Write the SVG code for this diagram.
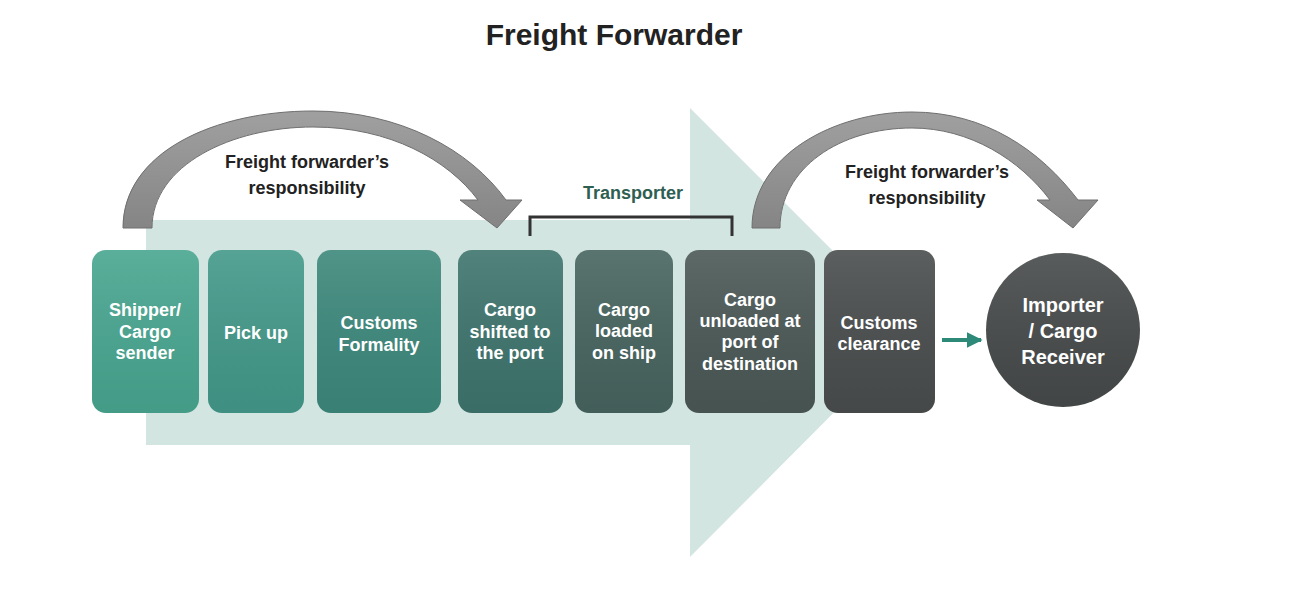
<svg xmlns="http://www.w3.org/2000/svg" width="1300" height="600" viewBox="0 0 1300 600">
<defs>
<linearGradient id="shade" x1="0" y1="0" x2="0" y2="1">
<stop offset="0" stop-color="#ffffff" stop-opacity="0.10"/>
<stop offset="1" stop-color="#000000" stop-opacity="0.06"/>
</linearGradient>
<linearGradient id="grayArc" x1="0" y1="0" x2="0" y2="1">
<stop offset="0" stop-color="#a0a0a0"/>
<stop offset="1" stop-color="#858585"/>
</linearGradient>
<marker id="tealHead" viewBox="0 0 10 10" refX="9" refY="5" markerWidth="4" markerHeight="4" orient="auto">
<path d="M0,0 L10,5 L0,10 Z" fill="#2e8a78"/>
</marker>
</defs>
<style>
.title{font-family:"Liberation Sans",Arial,sans-serif;font-weight:bold;font-size:30px;fill:#222;text-anchor:middle}
.lbl{font-family:"Liberation Sans",Arial,sans-serif;font-weight:bold;font-size:18px;fill:#ffffff;text-anchor:middle;dominant-baseline:central}
.big{font-family:"Liberation Sans",Arial,sans-serif;font-weight:bold;font-size:20px;fill:#ffffff;text-anchor:middle;dominant-baseline:central}
.resp{font-family:"Liberation Sans",Arial,sans-serif;font-weight:bold;font-size:18px;fill:#222;text-anchor:middle;dominant-baseline:central}
.trans{font-family:"Liberation Sans",Arial,sans-serif;font-weight:bold;font-size:18px;fill:#2f5e52;text-anchor:middle;dominant-baseline:central}
.arc{fill:url(#grayArc);stroke:#6f6f6f;stroke-width:1}
</style>
<rect width="1300" height="600" fill="#ffffff"/>
<text class="title" x="614" y="45">Freight Forwarder</text>
<g id="flow-arrow">
<path d="M146,220 L690,220 L690,108 L914,332 L690,557 L690,445 L146,445 Z" fill="#d3e5e1"/>
</g>
<g id="connectors">
<path id="resp-arrow-1" class="arc" d="M123,228 C123,152 215,111 313,111 C400,111 470,150 506,200 L522,200 L497,228 L460,200 L478,200 C448,160 390,127 313,127 C232,127 152,165 152,228 Z"/>
<path id="resp-arrow-2" class="arc" d="M752,228 C752,155 835,112 912,112 C985,112 1040,150 1078,200 L1098,200 L1073,228 L1037,200 L1050,200 C1020,160 970,128 912,128 C840,128 780,168 780,228 Z"/>
<path id="transporter-bracket" d="M530,236 L530,217 L732,217 L732,236" fill="none" stroke="#333" stroke-width="3"/>
<line x1="942" y1="340" x2="981" y2="340" stroke="#2e8a78" stroke-width="4" marker-end="url(#tealHead)"/>
</g>
<g id="labels">
<text class="resp" x="307" y="162">Freight forwarder’s</text>
<text class="resp" x="307" y="188">responsibility</text>
<text class="resp" x="927" y="172">Freight forwarder’s</text>
<text class="resp" x="927" y="198">responsibility</text>
<text class="trans" x="633" y="193">Transporter</text>
</g>
<g id="n1">
<rect x="92" y="250" width="107" height="163" rx="14" fill="#48a690"/>
<rect x="92" y="250" width="107" height="163" rx="14" fill="url(#shade)"/>
<text class="lbl" x="145" y="310">Shipper/</text>
<text class="lbl" x="145" y="332">Cargo</text>
<text class="lbl" x="145" y="353">sender</text>
</g>
<g id="n2">
<rect x="208" y="250" width="96" height="163" rx="14" fill="#43998a"/>
<rect x="208" y="250" width="96" height="163" rx="14" fill="url(#shade)"/>
<text class="lbl" x="256" y="333">Pick up</text>
</g>
<g id="n3">
<rect x="317" y="250" width="124" height="163" rx="14" fill="#3d887b"/>
<rect x="317" y="250" width="124" height="163" rx="14" fill="url(#shade)"/>
<text class="lbl" x="379" y="323">Customs</text>
<text class="lbl" x="379" y="345">Formality</text>
</g>
<g id="n4">
<rect x="458" y="250" width="105" height="163" rx="14" fill="#3e746d"/>
<rect x="458" y="250" width="105" height="163" rx="14" fill="url(#shade)"/>
<text class="lbl" x="510" y="310">Cargo</text>
<text class="lbl" x="510" y="332">shifted to</text>
<text class="lbl" x="510" y="353">the port</text>
</g>
<g id="n5">
<rect x="575" y="250" width="98" height="163" rx="14" fill="#47645f"/>
<rect x="575" y="250" width="98" height="163" rx="14" fill="url(#shade)"/>
<text class="lbl" x="624" y="310">Cargo</text>
<text class="lbl" x="624" y="331">loaded</text>
<text class="lbl" x="624" y="353">on ship</text>
</g>
<g id="n6">
<rect x="685" y="250" width="130" height="163" rx="14" fill="#4b5856"/>
<rect x="685" y="250" width="130" height="163" rx="14" fill="url(#shade)"/>
<text class="lbl" x="750" y="300">Cargo</text>
<text class="lbl" x="750" y="321">unloaded at</text>
<text class="lbl" x="750" y="342">port of</text>
<text class="lbl" x="750" y="364">destination</text>
</g>
<g id="n7">
<rect x="824" y="250" width="111" height="163" rx="14" fill="#4a4d4d"/>
<rect x="824" y="250" width="111" height="163" rx="14" fill="url(#shade)"/>
<text class="lbl" x="879" y="323">Customs</text>
<text class="lbl" x="879" y="344">clearance</text>
</g>
<g id="n8">
<circle cx="1063" cy="330" r="77" fill="#474a4a"/>
<circle cx="1063" cy="330" r="77" fill="url(#shade)"/>
<text class="big" x="1063" y="305">Importer</text>
<text class="big" x="1063" y="331">/ Cargo</text>
<text class="big" x="1063" y="357">Receiver</text>
</g>
</svg>
